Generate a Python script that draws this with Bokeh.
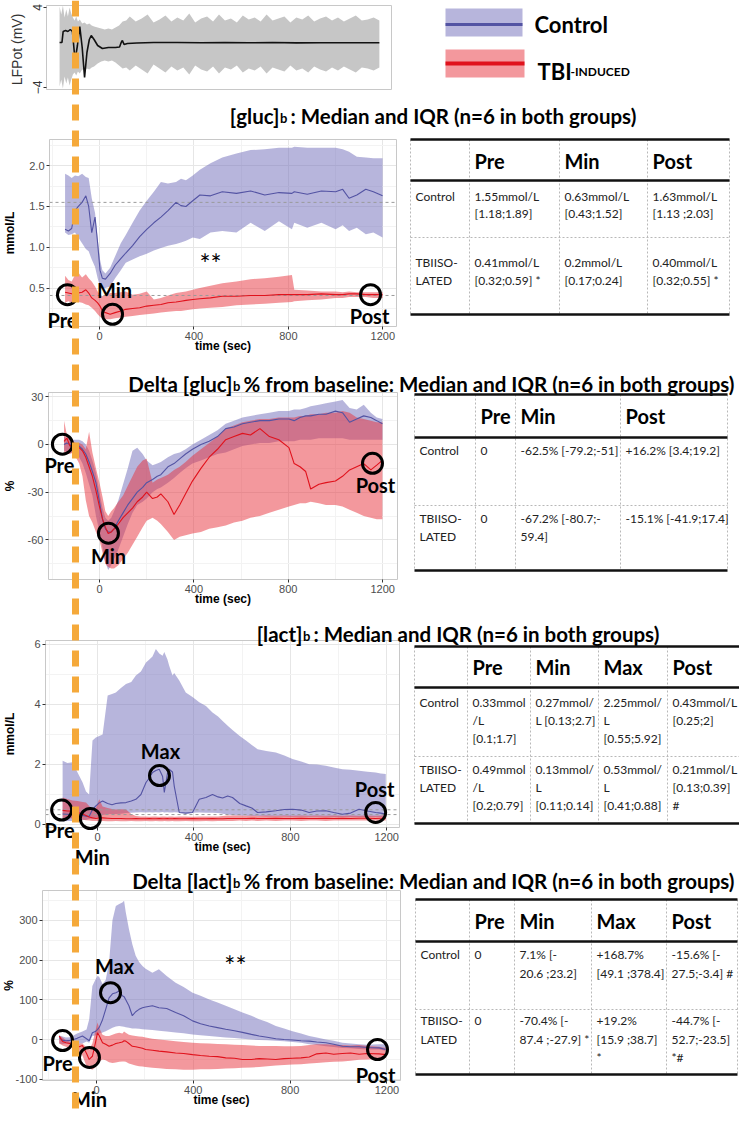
import math
from bokeh.plotting import figure
from bokeh.models import Range1d, LinearAxis, FixedTicker, PrintfTickFormatter, Span, Grid
from bokeh.embed import file_html
from bokeh.resources import INLINE
from bokeh.core.properties import value

# ======================= DATA =======================
# --- LFP trace (mV) ---
LFP_T = [-145, -135, -130, -120, -110, -100, -91, -80, -70, -60, -50, -40, -30, -20, -12, 0, 15, 35, 60, 90,
         107, 114, 119, 126, 140, 180, 250, 350, 450, 550, 650, 750, 850, 950, 1050, 1150, 1199]
LFP_MEAN = [0.5, 0.5, 1.6, 1.7, 1.6, 1.8, 1.6, -1.3, 0.2, 2.1, 0.0, -3.0, -0.5, 0.8, 1.2, 0.8, 0.2, -0.1, 0.0, 0.0,
            0.05, 0.5, 0.7, 0.3, 0.4, 0.45, 0.5, 0.5, 0.48, 0.5, 0.47, 0.5, 0.46, 0.48, 0.47, 0.48, 0.47]
LFPB_T = [-145, -138, -131, -124, -117, -110, -103, -96, -89, -82, -75, -68, -60, -50, -40, -30, -20, -10, 0, 15,
          30, 45, 60, 75, 90, 105, 120, 135, 150, 175, 200, 225, 250, 275, 300, 325, 350, 375, 400, 425,
          450, 475, 500, 525, 550, 575, 600, 625, 650, 675, 700, 725, 750, 775, 800, 825, 850, 875, 900, 925,
          950, 975, 1000, 1025, 1050, 1075, 1100, 1125, 1150, 1175, 1199]
LFPB_HI = [4.1, 3.3, 4.2, 3.0, 3.8, 3.1, 4.0, 3.4, 3.0, 2.7, 3.1, 2.6, 2.8, 2.4, 2.5, 2.3, 2.4, 2.2, 2.1, 2.0,
           1.9, 1.8, 1.9, 1.8, 2.0, 2.2, 2.6, 2.7, 3.1, 2.6, 2.9, 3.3, 2.5, 2.8, 3.2, 2.6, 3.0, 2.7, 3.4, 2.5,
           2.9, 3.1, 2.6, 3.3, 2.7, 2.9, 2.5, 3.2, 2.8, 3.0, 2.6, 3.3, 2.7, 2.9, 3.1, 2.5, 3.0, 2.8, 3.2, 2.6,
           2.9, 3.1, 2.7, 3.0, 2.6, 2.9, 3.2, 2.7, 2.8, 3.0, 2.7]
LFPB_LO = [-3.9, -3.2, -4.1, -2.9, -3.6, -3.0, -3.8, -3.2, -2.7, -2.5, -2.8, -2.4, -2.6, -2.2, -2.3, -2.1, -2.2, -2.0, -1.9, -1.6,
           -1.4, -1.3, -1.4, -1.3, -1.5, -1.8, -2.1, -2.0, -2.3, -1.8, -2.2, -2.6, -1.7, -2.1, -2.5, -1.9, -2.3, -2.0, -2.7, -1.8,
           -2.2, -2.4, -1.9, -2.6, -2.0, -2.2, -1.8, -2.5, -2.1, -2.3, -1.9, -2.6, -2.0, -2.2, -2.4, -1.8, -2.3, -2.1, -2.5, -1.9,
           -2.2, -2.4, -2.0, -2.3, -1.9, -2.2, -2.5, -2.0, -2.1, -2.3, -2.0]
LFP_YTICKS = [-4, 4]

TIME_TICKS = [0, 400, 800, 1200]
TIME_MINOR = [-200, 200, 600, 1000]

# --- [gluc]b (mmol/L) ---
GLUC_T = [-146, -132, -118, -104, -90, -74, -58, -46, -33, -19, -8, 2, 12, 25, 45, 66, 90, 111, 140, 170,
          200, 230, 260, 290, 324, 345, 366, 395, 425, 470, 520, 580, 640, 700, 760, 815, 825, 880, 940, 1000,
          1030, 1057, 1090, 1128, 1160, 1199]
GLUC_CTRL_MED = [1.22, 1.20, 1.23, 1.45, 1.50, 1.55, 1.63, 1.50, 1.18, 1.37, 1.05, 0.72, 0.62, 0.61, 0.68, 0.78, 0.86, 0.93, 1.02, 1.13,
                 1.22, 1.30, 1.37, 1.45, 1.55, 1.51, 1.50, 1.57, 1.64, 1.63, 1.68, 1.66, 1.69, 1.64, 1.67, 1.66, 1.68, 1.65, 1.69, 1.68,
                 1.71, 1.60, 1.64, 1.71, 1.68, 1.63]
GLUC_CTRL_Q3 = [1.90, 1.88, 1.85, 1.88, 1.87, 1.90, 1.86, 1.85, 1.60, 1.42, 1.10, 0.85, 0.72, 0.68, 0.75, 0.89, 1.05, 1.15, 1.30, 1.45,
                1.57, 1.68, 1.80, 1.78, 1.80, 1.84, 1.82, 1.88, 1.95, 2.03, 2.10, 2.15, 2.19, 2.20, 2.22, 2.22, 2.23, 2.22, 2.22, 2.22,
                2.20, 2.17, 2.11, 2.10, 2.09, 2.09]
GLUC_CTRL_Q1 = [1.18, 1.15, 1.16, 1.18, 1.12, 1.05, 0.98, 0.95, 0.85, 0.76, 0.62, 0.52, 0.50, 0.50, 0.52, 0.62, 0.72, 0.81, 0.85, 0.89,
                0.92, 0.96, 0.99, 1.02, 1.04, 1.06, 1.08, 1.12, 1.10, 1.18, 1.20, 1.18, 1.30, 1.20, 1.32, 1.22, 1.30, 1.24, 1.30, 1.22,
                1.27, 1.20, 1.24, 1.16, 1.18, 1.12]
GLUC_TBI_MED = [0.45, 0.44, 0.43, 0.44, 0.44, 0.45, 0.48, 0.44, 0.38, 0.35, 0.32, 0.28, 0.22, 0.20, 0.18, 0.20, 0.22, 0.24, 0.25, 0.26,
                0.28, 0.29, 0.30, 0.32, 0.33, 0.34, 0.35, 0.36, 0.37, 0.38, 0.40, 0.40, 0.41, 0.41, 0.42, 0.42, 0.42, 0.42, 0.43, 0.42,
                0.42, 0.43, 0.43, 0.42, 0.42, 0.42]
GLUC_TBI_Q3 = [0.65, 0.60, 0.58, 0.66, 0.69, 0.63, 0.67, 0.62, 0.58, 0.52, 0.46, 0.42, 0.40, 0.42, 0.44, 0.44, 0.45, 0.46, 0.42, 0.43,
               0.46, 0.36, 0.38, 0.41, 0.44, 0.45, 0.46, 0.48, 0.50, 0.53, 0.56, 0.58, 0.61, 0.62, 0.64, 0.66, 0.48, 0.47, 0.46, 0.46,
               0.45, 0.46, 0.45, 0.45, 0.45, 0.45]
GLUC_TBI_Q1 = [0.32, 0.34, 0.32, 0.33, 0.33, 0.32, 0.30, 0.29, 0.26, 0.22, 0.18, 0.15, 0.13, 0.12, 0.12, 0.13, 0.14, 0.15, 0.16, 0.17,
               0.18, 0.19, 0.20, 0.21, 0.22, 0.22, 0.23, 0.24, 0.25, 0.26, 0.27, 0.29, 0.30, 0.31, 0.32, 0.33, 0.34, 0.35, 0.36, 0.38,
               0.38, 0.39, 0.39, 0.39, 0.38, 0.38]
GLUC_PRE_REF = [1.55, 0.41]
GLUC_YTICKS = [0.5, 1.0, 1.5, 2.0]
GLUC_YMINOR = [0.25, 0.75, 1.25, 1.75, 2.25]
GLUC_MARK_T = [-136, 55, 1148]
GLUC_MARK_V = [0.42, 0.18, 0.42]
GLUC_MARK_LBL = ["Pre", "Min", "Post"]
GLUC_STAR_T = [470]
GLUC_STAR_V = [0.87]

# --- Delta [gluc]b (%) ---
DGLUC_T = [-150, -138, -125, -112, -100, -86, -72, -58, -44, -30, -15, 0, 13, 25, 37, 50, 62, 80, 100, 120,
           140, 160, 183, 200, 225, 245, 260, 290, 316, 340, 365, 394, 430, 465, 500, 535, 570, 606, 640, 680,
           720, 760, 803, 825, 850, 874, 895, 930, 960, 1000, 1030, 1060, 1090, 1120, 1150, 1175, 1199]
DGLUC_TBI_MED = [2, 4, -1, 0, -1, -2, -4, -8, -14, -20, -29, -39, -47, -52, -56, -55, -53, -50, -46, -43,
                 -40, -36, -33, -30, -34, -33, -31, -36, -44, -38, -31, -23, -15, -8, -3, 3, 5, 7, 6, 10,
                 5, 3, -2, -12, -14, -17, -28, -25, -24, -23, -20, -16, -14, -12, -16, -13, -10]
DGLUC_TBI_Q3 = [15, 6, 3, 2, 1, 1, 0, -3, 8, -5, -15, -24, -33, -42, -45, -42, -40, -36, -32, -26,
                -20, -14, -10, -9, -24, -22, -21, -19, -16, -14, -11, -7, -3, 1, 5, 10, 12, 14, 15, 16,
                16, 17, 17, 17, 18, 18, 19, 19, 20, 20, 21, 20, 17, 16, 15, 14, 14]
DGLUC_TBI_Q1 = [-5, -6, -6, -5, -8, -12, -20, -35, -45, -49, -55, -60, -68, -75, -77, -78, -78, -76, -72, -68,
                -63, -58, -52, -48, -46, -48, -50, -55, -60, -58, -57, -56, -55, -53, -52, -51, -49, -48, -46, -45,
                -43, -41, -39, -38, -37, -37, -36, -37, -38, -38, -39, -41, -43, -45, -46, -47, -47]
DGLUC_CTRL_MED = [0, 1, 0, 0, 0, -1, -3, -6, -11, -17, -24, -36, -47, -53, -55, -55, -53, -48, -43, -38,
                  -34, -30, -27, -24, -22, -20, -19, -14, -12, -9, -6, -3, 0, 2, 5, 10, 11, 13, 14, 15,
                  15, 16, 16, 15, 17, 18, 18, 19, 19, 21, 20, 14, 16, 18, 17, 15, 13]
DGLUC_CTRL_Q3 = [5, 4, 4, 3, 3, 3, 2, 0, -4, -10, -18, -30, -40, -46, -48, -46, -42, -35, -25, -15,
                 -4, -2, -6, -10, -13, -12, -11, -8, -6, -5, -3, 0, 3, 6, 9, 13, 15, 17, 18, 19,
                 20, 21, 21, 22, 22, 23, 24, 25, 26, 27, 28, 23, 22, 25, 20, 17, 16]
DGLUC_CTRL_Q1 = [-4, -5, -5, -5, -6, -8, -12, -18, -25, -32, -45, -55, -65, -74, -79, -76, -72, -66, -58, -50,
                 -43, -38, -36, -34, -30, -28, -27, -24, -21, -18, -15, -12, -10, -8, -6, -5, -3, -1, 0, 1,
                 1, 2, 2, 2, 3, 3, 3, 4, 4, 4, 4, 3, 3, 3, 3, 3, 3]
DGLUC_YTICKS = [-60, -30, 0, 30]
DGLUC_YMINOR = [-75, -45, -15, 15]
DGLUC_MARK_T = [-157, 38, 1157]
DGLUC_MARK_V = [0.2, -55.8, -11.8]
DGLUC_MARK_LBL = ["Pre", "Min", "Post"]

# --- [lact]b (mmol/L) ---
LACT_T = [-145, -125, -104, -83, -62, -48, -35, -21, -7, 7, 21, 42, 60, 76, 97, 118, 140, 159, 180, 201,
          215, 228, 242, 256, 270, 277, 290, 297, 311, 318, 339, 366, 394, 422, 450, 477, 500, 519, 540, 560,
          590, 616, 640, 664, 700, 740, 775, 809, 845, 878, 910, 947, 980, 1016, 1050, 1085, 1120, 1154, 1175, 1196]
LACT_CTRL_Q3 = [2.12, 2.05, 2.07, 1.73, 1.40, 1.10, 1.00, 2.80, 2.90, 2.95, 3.00, 4.30, 4.35, 4.40, 4.55, 4.68, 4.75, 4.96, 5.10, 5.40,
                5.50, 5.60, 5.85, 5.70, 5.62, 5.75, 5.50, 5.30, 4.96, 5.05, 4.80, 4.40, 4.25, 4.07, 3.95, 3.73, 3.60, 3.45, 3.29, 3.15,
                2.95, 2.80, 2.65, 2.51, 2.45, 2.40, 2.30, 2.18, 2.10, 2.01, 2.00, 1.96, 1.90, 1.84, 1.82, 1.79, 1.76, 1.73, 1.70, 1.68]
LACT_CTRL_MED = [0.35, 0.34, 0.33, 0.33, 0.30, 0.28, 0.27, 0.50, 0.62, 0.72, 0.78, 0.70, 0.66, 0.70, 0.72, 0.73, 0.78, 0.84, 1.00, 1.40,
                 1.55, 1.73, 1.80, 1.84, 1.60, 1.07, 1.70, 1.84, 1.75, 1.29, 0.40, 0.38, 0.40, 0.84, 0.90, 1.00, 0.92, 0.88, 0.95, 0.90,
                 0.70, 0.62, 0.55, 0.40, 0.42, 0.46, 0.50, 0.51, 0.48, 0.40, 0.45, 0.46, 0.40, 0.34, 0.38, 0.51, 0.45, 0.40, 0.38, 0.35]
LACT_CTRL_Q1 = [0.10, 0.12, 0.12, 0.15, 0.15, 0.15, 0.18, 0.20, 0.22, 0.28, 0.32, 0.34, 0.35, 0.35, 0.36, 0.38, 0.39, 0.40, 0.41, 0.40,
                0.41, 0.40, 0.41, 0.40, 0.42, 0.40, 0.41, 0.40, 0.40, 0.41, 0.40, 0.37, 0.39, 0.40, 0.39, 0.39, 0.38, 0.36, 0.33, 0.31,
                0.30, 0.29, 0.28, 0.28, 0.27, 0.27, 0.27, 0.26, 0.26, 0.26, 0.26, 0.26, 0.25, 0.25, 0.25, 0.25, 0.25, 0.25, 0.25, 0.25]
LACT_TBI_Q3 = [0.90, 0.85, 0.80, 0.78, 0.75, 0.73, 0.62, 0.51, 0.55, 0.84, 0.60, 0.55, 0.52, 0.50, 0.51, 0.50, 0.35, 0.28, 0.27, 0.27,
               0.26, 0.27, 0.27, 0.26, 0.27, 0.27, 0.26, 0.27, 0.27, 0.26, 0.27, 0.27, 0.26, 0.27, 0.27, 0.27, 0.27, 0.28, 0.30, 0.30,
               0.30, 0.29, 0.30, 0.29, 0.30, 0.29, 0.30, 0.29, 0.30, 0.29, 0.30, 0.29, 0.30, 0.29, 0.30, 0.29, 0.30, 0.29, 0.30, 0.30]
LACT_TBI_MED = [0.47, 0.45, 0.45, 0.40, 0.35, 0.30, 0.25, 0.22, 0.20, 0.22, 0.22, 0.21, 0.20, 0.20, 0.20, 0.19, 0.19, 0.20, 0.19, 0.19,
                0.20, 0.19, 0.19, 0.20, 0.19, 0.19, 0.20, 0.19, 0.19, 0.20, 0.19, 0.19, 0.20, 0.19, 0.19, 0.20, 0.19, 0.19, 0.20, 0.20,
                0.20, 0.20, 0.21, 0.20, 0.20, 0.21, 0.20, 0.20, 0.21, 0.20, 0.20, 0.21, 0.20, 0.21, 0.20, 0.21, 0.21, 0.20, 0.21, 0.21]
LACT_TBI_Q1 = [0.20, 0.22, 0.20, 0.18, 0.16, 0.14, 0.13, 0.12, 0.12, 0.12, 0.12, 0.11, 0.11, 0.12, 0.11, 0.11, 0.12, 0.11, 0.11, 0.12,
               0.11, 0.11, 0.12, 0.11, 0.11, 0.12, 0.11, 0.11, 0.12, 0.11, 0.11, 0.12, 0.11, 0.11, 0.12, 0.11, 0.12, 0.12, 0.12, 0.12,
               0.13, 0.12, 0.13, 0.12, 0.13, 0.12, 0.13, 0.13, 0.12, 0.13, 0.13, 0.12, 0.13, 0.13, 0.13, 0.13, 0.13, 0.13, 0.13, 0.13]
LACT_PRE_REF = [0.33, 0.49]
LACT_YTICKS = [0, 2, 4, 6]
LACT_YMINOR = [1, 3, 5]
LACT_MARK_T = [-149, -30, 257, 1154]
LACT_MARK_V = [0.48, 0.2, 1.63, 0.4]
LACT_MARK_LBL = ["Pre", "Min", "Max", "Post"]

# --- Delta [lact]b (%) ---
DLACT_T = [-154, -140, -126, -110, -95, -80, -58, -41, -30, -17, -5, 4, 11, 25, 38, 52, 66, 80, 94, 107,
           114, 121, 134, 148, 162, 176, 190, 203, 231, 258, 290, 327, 360, 397, 430, 466, 500, 534, 570, 603,
           640, 672, 705, 741, 775, 810, 845, 879, 910, 948, 980, 1016, 1050, 1085, 1120, 1168, 1195]
DLACT_CTRL_MED = [5, -2, -3, -2, 0, 3, 9, 2, -3, 17, 20, 25, 30, 50, 76, 105, 115, 118, 122, 110,
                  108, 100, 85, 60, 70, 76, 80, 82, 85, 80, 78, 68, 60, 47, 40, 34, 30, 26, 22, 18,
                  13, 9, 6, 2, 0, -1, -3, -4, -6, -8, -12, -17, -18, -18, -20, -21, -25]
DLACT_CTRL_Q3 = [10, 8, 5, 6, 10, 15, 20, 25, 51, 135, 150, 160, 158, 140, 150, 194, 300, 336, 341, 345,
                 349, 320, 278, 240, 211, 195, 185, 178, 168, 177, 160, 143, 132, 118, 110, 101, 93, 85, 76, 68,
                 60, 51, 44, 34, 28, 21, 15, 9, 5, 0, -3, -8, -10, -12, -13, -12, -12]
DLACT_CTRL_Q1 = [-10, -12, -10, -10, -10, -10, -10, -5, -8, 9, 10, 12, 15, 18, 21, 25, 30, 33, 34, 33,
                 32, 31, 30, 28, 28, 27, 26, 25, 24, 22, 20, 18, 16, 13, 11, 9, 7, 5, 4, 2,
                 0, -1, -2, -3, -4, -6, -8, -12, -14, -17, -19, -21, -22, -24, -25, -25, -28]
DLACT_TBI_MED = [9, -5, -8, -10, -15, -20, -15, -35, -50, -42, -10, 17, 10, -8, -12, -17, -14, -10, -8, -6,
                 -3, -4, -10, -17, -18, -20, -22, -25, -27, -29, -31, -34, -35, -38, -40, -42, -43, -46, -47, -50,
                 -50, -48, -49, -50, -48, -47, -46, -44, -36, -34, -37, -35, -34, -37, -35, -36, -38]
DLACT_TBI_Q3 = [10, 5, -2, -5, -8, -10, -10, -20, -25, -10, 20, 43, 30, 12, 9, 9, 12, 15, 17, 15,
                20, 17, 12, 10, 9, 8, 7, 5, 2, 0, -2, -4, -6, -8, -9, -10, -11, -12, -13, -14,
                -15, -16, -16, -16, -17, -17, -16, -14, -12, -12, -13, -14, -15, -14, -16, -18, -21]
DLACT_TBI_Q1 = [-10, -15, -18, -20, -22, -25, -40, -67, -72, -76, -70, -62, -55, -50, -52, -57, -59, -58, -56, -55,
                -55, -56, -60, -63, -65, -67, -68, -69, -71, -72, -74, -75, -76, -76, -75, -75, -74, -73, -72, -71,
                -70, -69, -67, -65, -64, -63, -62, -60, -59, -57, -56, -55, -53, -51, -50, -48, -46]
DLACT_YTICKS = [-100, 0, 100, 200, 300]
DLACT_YMINOR = [-50, 50, 150, 250, 350]
DLACT_MARK_T = [-140, -29, 58, 1161]
DLACT_MARK_V = [-2.5, -45, 118, -25]
DLACT_MARK_LBL = ["Pre", "Min", "Max", "Post"]
DLACT_STAR_T = [574]
DLACT_STAR_V = [201]

# --- titles ---
TITLE_MAIN = ["[gluc]", "Delta [gluc]", "[lact]", "Delta [lact]"]
TITLE_SUB = ["b", "b", "b", "b"]
TITLE_REST = [": Median and IQR (n=6 in both groups)",
              " % from baseline: Median and IQR (n=6 in both groups)",
              ":  Median and IQR (n=6 in both groups)",
              " % from baseline: Median and IQR (n=6 in both groups)"]
LEGEND_LABELS = ["Control", "TBI", "-INDUCED"]

# --- tables ---
GLUC_TAB_HEAD = ["Pre", "Min", "Post"]
GLUC_TAB_ROWS = [
    [["Control"], ["1.55mmol/L", "[1.18;1.89]"], ["0.63mmol/L", "[0.43;1.52]"], [" 1.63mmol/L", "[1.13 ;2.03]"]],
    [["TBIISO-", "LATED"], ["0.41mmol/L", "[0.32;0.59] *"], ["0.2mmol/L", "[0.17;0.24]"], ["0.40mmol/L", "[0.32;0.55] *"]],
]
DGLUC_TAB_HEAD = ["Pre", "Min", "Post"]
DGLUC_TAB_ROWS = [
    [["Control"], ["0"], ["-62.5% [-79.2;-51]"], ["+16.2% [3.4;19.2]"]],
    [["TBIISO-", "LATED"], ["0"], ["-67.2% [-80.7;-", "59.4]"], ["-15.1% [-41.9;17.4]"]],
]
LACT_TAB_HEAD = ["Pre", "Min", "Max", "Post"]
LACT_TAB_ROWS = [
    [["Control"], ["0.33mmol", "/L", "[0.1;1.7]"], ["0.27mmol/", "L [0.13;2.7]"], ["2.25mmol/", "L", "[0.55;5.92]"], ["0.43mmol/L", "[0.25;2]"]],
    [["TBIISO-", "LATED"], ["0.49mmol", "/L", "[0.2;0.79]"], ["0.13mmol/", "L", "[0.11;0.14]"], ["0.53mmol/", "L", "[0.41;0.88]"], ["0.21mmol/L", "[0.13;0.39]", "#"]],
]
DLACT_TAB_HEAD = ["Pre", "Min", "Max", "Post"]
DLACT_TAB_ROWS = [
    [["Control"], ["0"], ["7.1% [-", "20.6 ;23.2]"], [" +168.7%", "[49.1 ;378.4]"], ["-15.6% [-", "27.5;-3.4] #"]],
    [["TBIISO-", "LATED"], ["0"], [" -70.4% [-", "87.4 ;-27.9] *"], [" +19.2%", "[15.9 ;38.7]", "*"], ["-44.7% [-", "52.7;-23.5]", "*#"]],
]

# ======================= LAYOUT / STYLE =======================
W, H, MG = 739, 1110, 8
X0, X1, Y0, Y1 = MG, MG + W, MG + H, MG   # page coordinates of the canvas

PURPLE_FILL = "#6f6bba"
PURPLE_LINE = "#5353a3"
RED_FILL = "#e8323c"
RED_LINE = "#e0121c"
FILL_ALPHA = 0.5
ORANGE = "#f5a93a"
TEXT_FONT = "Lato"
AXIS_FONT = "Liberation Sans"
TITLE_SIZE = 20.5

PANELS = {
    "lfp":   dict(xlim=(-200, 1250), sx=(54, 399), ylim=(-4.2, 4.2), sy=(97, 13)),
    "gluc":  dict(xlim=(-212, 1258), sx=(57, 404), ylim=(0.03, 2.32), sy=(334, 147)),
    "dgluc": dict(xlim=(-216, 1263), sx=(56, 405), ylim=(-84.9, 32.7), sy=(587, 400)),
    "lact":  dict(xlim=(-216, 1253), sx=(53, 407), ylim=(-0.1, 6.13), sy=(835, 648)),
    "dlact": dict(xlim=(-223, 1256), sx=(50, 408), ylim=(-103, 375), sy=(1088, 898)),
}
TITLE_POS = [(287, 123), (240, 391), (310, 641), (240, 888)]
YLABEL_X = {"gluc": 17, "dgluc": 17, "lact": 17, "dlact": 16}
TAB_LAYOUT = [
    dict(xs=[418, 477, 567, 655, 737], top=147, head=188, sep=245, bottom=322, head_y=168, row_y=[[204, 221], [270, 288]]),
    dict(xs=[422, 483, 523, 628, 735], top=402, head=445, sep=513, bottom=578, head_y=423, row_y=[[458, 476], [526, 544]]),
    dict(xs=[422, 475, 538, 606, 675, 748], top=654, head=695, sep=764, bottom=831, head_y=674, row_y=[[710, 728, 746], [777, 795, 813]]),
    dict(xs=[423, 477, 522, 599, 674, 745], top=907, head=949, sep=1017, bottom=1082, head_y=928, row_y=[[962, 981], [1028, 1047, 1065]]),
]


def lin_range(lim, s, a, b):
    k = (lim[1] - lim[0]) / (s[1] - s[0])
    return Range1d(start=lim[0] + k * (a - s[0]), end=lim[0] + k * (b - s[0]))


p = figure(width=W, height=H, output_backend="svg", toolbar_location=None,
           x_range=Range1d(X0, X1), y_range=Range1d(Y0, Y1),
           x_axis_type=None, y_axis_type=None, min_border=0,
           outline_line_color=None, background_fill_color="white", border_fill_color="white")

p.extra_x_ranges = {n: lin_range(d["xlim"], d["sx"], X0, X1) for n, d in PANELS.items()}
p.extra_y_ranges = {n: lin_range(d["ylim"], d["sy"], Y0, Y1) for n, d in PANELS.items()}


def R(n):
    return dict(x_range_name=n, y_range_name=n)


def txt(xs, ys, texts, size, bold=False, align="left", baseline="middle", color="black",
        angle=0.0, font=TEXT_FONT, rn=None, xo=0, yo=0):
    kw = R(rn) if rn else {}
    p.text(x=list(xs), y=list(ys), text=list(texts), text_font=value(font),
           text_font_size=value(f"{size}px"), text_font_style="bold" if bold else "normal",
           text_align=align, text_baseline=baseline, text_color=color, angle=angle,
           x_offset=xo, y_offset=yo, **kw)


def grid(n, dim, ticks, minor):
    d = PANELS[n]
    cross = d["ylim"] if dim == 0 else d["xlim"]
    try:
        g = Grid(dimension=dim, ticker=FixedTicker(ticks=ticks, minor_ticks=minor),
                 grid_line_color="#e6e6e6", minor_grid_line_color="#f3f3f3",
                 cross_bounds=cross, **R(n))
        p.add_layout(g)
    except Exception:
        lim = d["xlim"] if dim == 0 else d["ylim"]
        for tk, col in [(ticks, "#e6e6e6"), (minor, "#f3f3f3")]:
            tk = [t for t in tk if lim[0] < t < lim[1]]
            if dim == 0:
                p.segment(x0=tk, x1=tk, y0=[cross[0]] * len(tk), y1=[cross[1]] * len(tk),
                          line_color=col, **R(n))
            else:
                p.segment(y0=tk, y1=tk, x0=[cross[0]] * len(tk), x1=[cross[1]] * len(tk),
                          line_color=col, **R(n))


def axis_common():
    return dict(axis_line_color=None, major_tick_line_color="#333333", major_tick_out=3,
                major_tick_in=0, minor_tick_line_color=None, major_label_standoff=2,
                major_label_text_font=AXIS_FONT, major_label_text_font_size="11px",
                major_label_text_color="#4d4d4d")


def border(n):
    d = PANELS[n]
    p.quad(left=[d["xlim"][0]], right=[d["xlim"][1]], bottom=[d["ylim"][0]], top=[d["ylim"][1]],
           fill_color=None, line_color="#c8c8c8", line_width=1, **R(n))


def ts_panel(n, T, cq1, cmed, cq3, tq1, tmed, tq3, yticks, yminor, yfmt, ylabel, refs,
             mt, mv, ml, mxo, myo, star=None):
    for arr in (cq1, cmed, cq3, tq1, tmed, tq3):
        assert len(arr) == len(T), (n, len(arr), len(T))
    d = PANELS[n]
    grid(n, 0, TIME_TICKS, TIME_MINOR)
    grid(n, 1, yticks, yminor)
    p.varea(x=T, y1=cq1, y2=cq3, fill_color=PURPLE_FILL, fill_alpha=FILL_ALPHA, **R(n))
    p.varea(x=T, y1=tq1, y2=tq3, fill_color=RED_FILL, fill_alpha=FILL_ALPHA, **R(n))
    if refs:
        p.segment(x0=[d["xlim"][0]] * len(refs), x1=[d["xlim"][1]] * len(refs), y0=refs, y1=refs,
                  line_color="#9a9a9a", line_width=1, line_dash="3 3", **R(n))
    p.line(T, cmed, line_color=PURPLE_LINE, line_width=1.1, **R(n))
    p.line(T, tmed, line_color=RED_LINE, line_width=1.1, **R(n))
    border(n)
    ax = LinearAxis(fixed_location=d["ylim"][0], bounds=d["xlim"], ticker=FixedTicker(ticks=TIME_TICKS),
                    axis_label="time (sec)", axis_label_standoff=-4,
                    axis_label_text_font=AXIS_FONT, axis_label_text_font_size="12px",
                    axis_label_text_font_style="bold", axis_label_text_color="black",
                    **axis_common(), **R(n))
    p.add_layout(ax, "below")
    ay = LinearAxis(fixed_location=d["xlim"][0], bounds=d["ylim"], ticker=FixedTicker(ticks=yticks),
                    formatter=PrintfTickFormatter(format=yfmt), **axis_common(), **R(n))
    p.add_layout(ay, "left")
    cy = (d["sy"][0] + d["sy"][1]) / 2
    txt([YLABEL_X[n]], [cy], [ylabel], 12, bold=True, align="center", angle=math.pi / 2, font=AXIS_FONT)
    p.scatter(x=mt, y=mv, size=20, marker="circle", fill_color=None, line_color="black",
              line_width=3, **R(n))
    txt(mt, mv, ml, 20, bold=True, align="center", rn=n, xo=mxo, yo=myo)
    if star:
        txt(star[0], star[1], ["**"], 26, align="center", rn=n, yo=6)


# ---------- LFP panel ----------
assert len(LFP_T) == len(LFP_MEAN) and len(LFPB_T) == len(LFPB_HI) == len(LFPB_LO)
p.varea(x=LFPB_T, y1=LFPB_LO, y2=LFPB_HI, fill_color="#c6c6c6", **R("lfp"))
p.line(LFP_T, LFP_MEAN, line_color="#111111", line_width=1.6, **R("lfp"))
border("lfp")
ay = LinearAxis(fixed_location=PANELS["lfp"]["xlim"][0], bounds=PANELS["lfp"]["ylim"],
                ticker=FixedTicker(ticks=LFP_YTICKS), major_label_orientation="vertical",
                **axis_common(), **R("lfp"))
ay.major_label_text_font_size = "12px"
ay.major_label_text_color = "#333333"
p.add_layout(ay, "left")
txt([24], [55], ["LFPot  (mV)"], 14, align="center", angle=math.pi / 2, font=AXIS_FONT, color="#333333")

# ---------- legend ----------
p.quad(left=[453], right=[530], top=[16], bottom=[44], fill_color=PURPLE_FILL, fill_alpha=FILL_ALPHA, line_color=None)
p.segment(x0=[453], x1=[530], y0=[32], y1=[32], line_color=PURPLE_LINE, line_width=3)
p.quad(left=[453], right=[532], top=[57], bottom=[85], fill_color=RED_FILL, fill_alpha=FILL_ALPHA, line_color=None)
p.segment(x0=[453], x1=[532], y0=[71], y1=[71], line_color=RED_LINE, line_width=4)
txt([542], [32], [LEGEND_LABELS[0]], 22, bold=True)
txt([545], [79], [LEGEND_LABELS[1]], 22, bold=True, baseline="alphabetic")
txt([578], [79], [LEGEND_LABELS[2]], 12, bold=True, baseline="alphabetic")

# ---------- time-series panels ----------
ts_panel("gluc", GLUC_T, GLUC_CTRL_Q1, GLUC_CTRL_MED, GLUC_CTRL_Q3, GLUC_TBI_Q1, GLUC_TBI_MED, GLUC_TBI_Q3,
         GLUC_YTICKS, GLUC_YMINOR, "%.1f", "mmol/L", GLUC_PRE_REF,
         GLUC_MARK_T, GLUC_MARK_V, GLUC_MARK_LBL, [-5, 2, -1], [25, -24, 21],
         star=(GLUC_STAR_T, GLUC_STAR_V))
ts_panel("dgluc", DGLUC_T, DGLUC_CTRL_Q1, DGLUC_CTRL_MED, DGLUC_CTRL_Q3, DGLUC_TBI_Q1, DGLUC_TBI_MED, DGLUC_TBI_Q3,
         DGLUC_YTICKS, DGLUC_YMINOR, "%d", "%", None,
         DGLUC_MARK_T, DGLUC_MARK_V, DGLUC_MARK_LBL, [-3, 0, 3], [21, 23, 22])
ts_panel("lact", LACT_T, LACT_CTRL_Q1, LACT_CTRL_MED, LACT_CTRL_Q3, LACT_TBI_Q1, LACT_TBI_MED, LACT_TBI_Q3,
         LACT_YTICKS, LACT_YMINOR, "%d", "mmol/L", LACT_PRE_REF,
         LACT_MARK_T, LACT_MARK_V, LACT_MARK_LBL, [-2, 2, 1, -1], [20, 39, -25, -23])
ts_panel("dlact", DLACT_T, DLACT_CTRL_Q1, DLACT_CTRL_MED, DLACT_CTRL_Q3, DLACT_TBI_Q1, DLACT_TBI_MED, DLACT_TBI_Q3,
         DLACT_YTICKS, DLACT_YMINOR, "%d", "%", None,
         DLACT_MARK_T, DLACT_MARK_V, DLACT_MARK_LBL, [-5, 0, 4, -2], [22, 42, -27, 26],
         star=(DLACT_STAR_T, DLACT_STAR_V))

# ---------- titles ----------
for (xa, yb), m, s, r in zip(TITLE_POS, TITLE_MAIN, TITLE_SUB, TITLE_REST):
    txt([xa], [yb], [m], TITLE_SIZE, bold=True, align="right", baseline="alphabetic")
    txt([xa + 0.5], [yb + 2], [s], 13, bold=True, align="left", baseline="alphabetic")
    txt([xa + 11], [yb], [r], TITLE_SIZE, bold=True, align="left", baseline="alphabetic")


# ---------- tables ----------
def draw_table(lay, head, rows):
    xs = lay["xs"]
    ys_thick = [lay["top"], lay["head"], lay["bottom"]]
    p.segment(x0=xs, x1=xs, y0=[lay["top"]] * len(xs), y1=[lay["bottom"]] * len(xs),
              line_color="#b8b8b8", line_width=1, line_dash="2 2")
    p.segment(x0=[xs[0]], x1=[xs[-1]], y0=[lay["sep"]], y1=[lay["sep"]],
              line_color="#b8b8b8", line_width=1, line_dash="2 2")
    p.segment(x0=[xs[0]] * 3, x1=[xs[-1]] * 3, y0=ys_thick, y1=ys_thick,
              line_color="#111111", line_width=2.6)
    txt([x + 5 for x in xs[1:-1]], [lay["head_y"]] * len(head), head, 20, bold=True)
    tx, ty, tt = [], [], []
    for r, row in enumerate(rows):
        ys = lay["row_y"][r]
        for c, cell in enumerate(row):
            for li, line in enumerate(cell):
                tx.append(xs[c] + 5)
                ty.append(ys[li])
                tt.append(line)
    txt(tx, ty, tt, 12, color="#222222")


draw_table(TAB_LAYOUT[0], GLUC_TAB_HEAD, GLUC_TAB_ROWS)
draw_table(TAB_LAYOUT[1], DGLUC_TAB_HEAD, DGLUC_TAB_ROWS)
draw_table(TAB_LAYOUT[2], LACT_TAB_HEAD, LACT_TAB_ROWS)
draw_table(TAB_LAYOUT[3], DLACT_TAB_HEAD, DLACT_TAB_ROWS)

# ---------- stimulus marker (orange dashed line) ----------
p.add_layout(Span(location=83, dimension="height", line_color=ORANGE, line_width=7, line_dash="16 10"))

open("out.html", "w").write(file_html(p, INLINE))
